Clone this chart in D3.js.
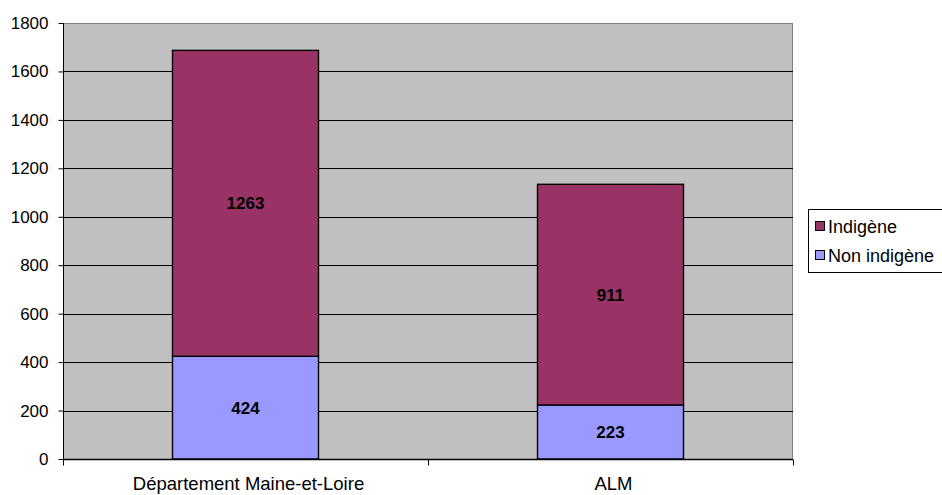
<!DOCTYPE html>
<html><head><meta charset="utf-8">
<script src="https://cdn.jsdelivr.net/npm/d3@7"></script>
<style>body{margin:0;background:#fff}svg{display:block;font-family:"Liberation Sans",Arial,sans-serif}</style>
</head><body><svg id="c" width="942" height="495"></svg>
<script>
const categories = ["Département Maine-et-Loire", "ALM"];
const seriesNames = ["Non indigène", "Indigène"];
const nonIndigene = [424, 223];
const indigene = [1263, 911];
const yTicks = [0, 200, 400, 600, 800, 1000, 1200, 1400, 1600, 1800];
const colors = {"Non indigène": "#9999FF", "Indigène": "#993366"};

const svg = d3.select("#c");
const L = 63, R = 793, T = 23, B = 459;
const x = d3.scaleBand().domain(categories).range([L, R]).paddingInner(0).paddingOuter(0);
const y = d3.scaleLinear().domain([0, 1800]).range([B, T]);

const rows = categories.map((c, i) => ({cat: c, "Non indigène": nonIndigene[i], "Indigène": indigene[i]}));
const stack = d3.stack().keys(seriesNames)(rows);

// plot background
svg.append("rect").attr("x", L + 0.5).attr("y", T + 0.5).attr("width", R - L - 1).attr("height", B - T)
  .attr("fill", "#C0C0C0").attr("stroke", "#808080").attr("stroke-width", 1);

// gridlines
svg.append("g").selectAll("line").data(yTicks.filter(d => d > 0 && d < 1800)).join("line")
  .attr("x1", L).attr("x2", R).attr("y1", d => Math.round(y(d)) + 0.5).attr("y2", d => Math.round(y(d)) + 0.5)
  .attr("stroke", "#000").attr("stroke-width", 1);

// bars
const bw = x.bandwidth() * 0.4;
stack.forEach(s => {
  svg.append("g").selectAll("rect").data(s).join("rect")
    .attr("x", d => x(d.data.cat) + (x.bandwidth() - bw) / 2)
    .attr("y", d => y(d[1]))
    .attr("width", bw)
    .attr("height", d => y(d[0]) - y(d[1]))
    .attr("fill", colors[s.key]).attr("stroke", "#000").attr("stroke-width", 1.4);
  svg.append("g").selectAll("text").data(s).join("text")
    .attr("x", d => x(d.data.cat) + x.bandwidth() / 2)
    .attr("y", d => (y(d[0]) + y(d[1])) / 2 + 6)
    .attr("text-anchor", "middle").attr("font-size", 17).attr("font-weight", "bold")
    .text(d => d[1] - d[0]);
});

// y axis
const ya = d3.axisLeft(y).tickValues(yTicks).tickSize(5).tickPadding(10).tickFormat(d3.format("d"));
const gy = svg.append("g").attr("transform", `translate(${L + 0.5},0)`).call(ya);
gy.select(".domain").attr("stroke", "#000").attr("d", `M0,${B}V${T}`);
gy.selectAll("line").attr("stroke", "#000");
gy.selectAll("text").attr("font-size", 17).attr("font-family", "Liberation Sans, Arial, sans-serif").attr("fill", "#000");

// x axis
const gx = svg.append("g").attr("transform", `translate(0,${B + 0.5})`);
gx.append("line").attr("x1", L).attr("x2", R).attr("stroke", "#000").attr("stroke-width", 1.4);
const xTickPos = [L, ...categories.map(c => x(c) + x.bandwidth())];
gx.selectAll("line.t").data(xTickPos).join("line").attr("class", "t")
  .attr("x1", d => Math.round(d) + 0.5).attr("x2", d => Math.round(d) + 0.5).attr("y1", 0).attr("y2", 6).attr("stroke", "#000");
gx.selectAll("text").data(categories).join("text")
  .attr("x", d => x(d) + x.bandwidth() / 2 + 3).attr("y", 30)
  .attr("text-anchor", "middle").attr("font-size", 18.5).text(d => d);

// legend
const lg = svg.append("g");
lg.append("rect").attr("x", 808.5).attr("y", 209.5).attr("width", 140).attr("height", 63)
  .attr("fill", "#fff").attr("stroke", "#000");
const legendItems = ["Indigène", "Non indigène"];
legendItems.forEach((k, i) => {
  const cy = 226 + i * 29;
  lg.append("rect").attr("x", 815.5).attr("y", cy - 4.5).attr("width", 9).attr("height", 9)
    .attr("fill", colors[k]).attr("stroke", "#000");
  lg.append("text").attr("x", 828).attr("y", cy + 6.5).attr("font-size", 18).text(k);
});
</script></body></html>
